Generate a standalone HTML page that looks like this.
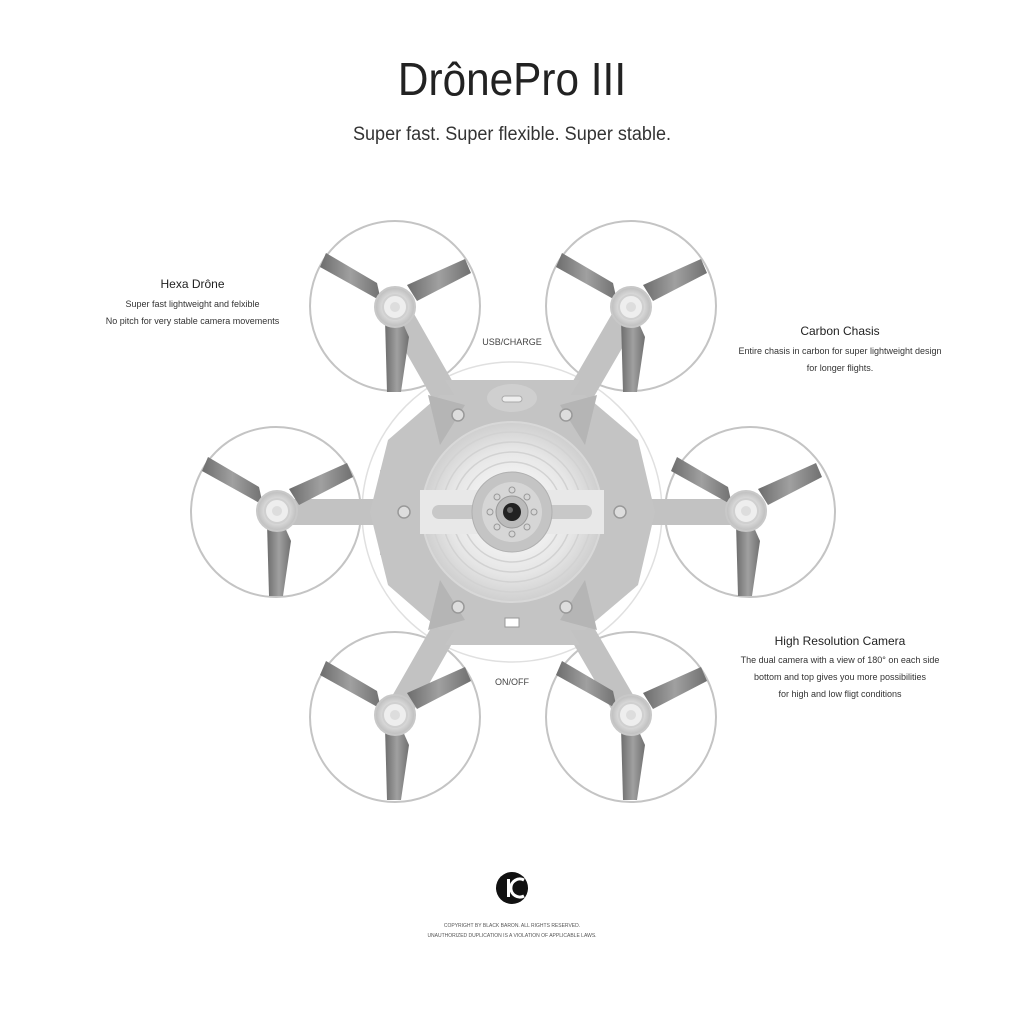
<!DOCTYPE html>
<html><head><meta charset="utf-8"><style>
html,body{margin:0;padding:0;background:#fff;}
body{width:1024px;height:1024px;position:relative;overflow:hidden;font-family:"Liberation Sans",sans-serif;color:#222;}
.t{position:absolute;text-align:center;}
</style></head><body>
<svg width="1024" height="1024" style="position:absolute;left:0;top:0">
<defs>
<linearGradient id="bl" x1="0" y1="0" x2="1" y2="0"><stop offset="0" stop-color="#6d6d6d"/><stop offset="0.5" stop-color="#a0a0a0"/><stop offset="1" stop-color="#707070"/></linearGradient>
<radialGradient id="hub"><stop offset="0" stop-color="#f4f4f4"/><stop offset="0.6" stop-color="#dcdcdc"/><stop offset="1" stop-color="#bdbdbd"/></radialGradient>
<radialGradient id="core"><stop offset="0" stop-color="#ffffff"/><stop offset="0.7" stop-color="#e6e6e6"/><stop offset="1" stop-color="#cfcfcf"/></radialGradient>
<g id="rot">
<polygon points="-14,-6 -75,-40 -69,-54 -18,-24" fill="url(#bl)"/>
<polygon points="12,-22 70,-48 76,-34 22,-6" fill="url(#bl)"/>
<polygon points="-10,12 -8,85 6,85 14,30 6,12" fill="url(#bl)"/>
<circle r="20" fill="url(#hub)" stroke="#c8c8c8" stroke-width="2"/>
<circle r="12" fill="#eee" stroke="#d0d0d0" stroke-width="2"/>
<circle r="5" fill="#ddd"/>
</g>
</defs>
<g fill="none" stroke="#c4c4c4" stroke-width="2">
<circle cx="395" cy="306" r="85"/><circle cx="631" cy="306" r="85"/>
<circle cx="276" cy="512" r="85"/><circle cx="750" cy="512" r="85"/>
<circle cx="395" cy="717" r="85"/><circle cx="631" cy="717" r="85"/>
</g>
<circle cx="512" cy="512" r="150" fill="none" stroke="#e0e0e0" stroke-width="1.5"/>
<g stroke="#c2c2c2" stroke-linecap="round">
<line x1="512" y1="512" x2="398" y2="312" stroke-width="26"/>
<line x1="512" y1="512" x2="628" y2="312" stroke-width="26"/>
<line x1="512" y1="512" x2="280" y2="512" stroke-width="26"/>
<line x1="512" y1="512" x2="744" y2="512" stroke-width="26"/>
<line x1="512" y1="512" x2="398" y2="712" stroke-width="26"/>
<line x1="512" y1="512" x2="628" y2="712" stroke-width="26"/>
</g>
<polygon points="440,395 585,395 638,440 655,512 638,585 585,630 440,630 388,585 370,512 388,440" fill="#c4c4c4"/>
<polygon points="445,380 470,420 430,470 380,470 380,555 430,555 470,605 445,645 580,645 555,605 595,555 645,555 645,470 595,470 555,420 580,380" fill="#c4c4c4"/>
<ellipse cx="512" cy="398" rx="25" ry="14" fill="#cfcfcf"/>
<rect x="502" y="396" width="20" height="6" rx="3" fill="#eee" stroke="#aaa"/>
<rect x="505" y="618" width="14" height="9" fill="#fff" stroke="#999"/>
<g fill="#b5b5b5">
<polygon points="428,395 465,405 440,445"/><polygon points="597,395 560,405 585,445"/>
<polygon points="428,630 465,620 440,580"/><polygon points="597,630 560,620 585,580"/>
</g>
<g fill="#ddd" stroke="#999" stroke-width="1.5">
<circle cx="458" cy="415" r="6"/><circle cx="566" cy="415" r="6"/>
<circle cx="458" cy="607" r="6"/><circle cx="566" cy="607" r="6"/>
<circle cx="404" cy="512" r="6"/><circle cx="620" cy="512" r="6"/>
</g>
<circle cx="512" cy="512" r="90" fill="url(#core)" stroke="#d8d8d8" stroke-width="2"/>
<g fill="none" stroke="#d2d2d2" stroke-width="1.5">
<circle cx="512" cy="512" r="80"/><circle cx="512" cy="512" r="70"/><circle cx="512" cy="512" r="60"/><circle cx="512" cy="512" r="50"/>
</g>
<rect x="420" y="490" width="184" height="44" fill="#e8e8e8"/>
<rect x="432" y="505" width="160" height="14" rx="7" fill="#c8c8c8"/>
<circle cx="512" cy="512" r="40" fill="#c4c4c4" stroke="#b0b0b0"/>
<circle cx="512" cy="512" r="30" fill="#d6d6d6"/>
<g fill="none" stroke="#999"><circle cx="512" cy="490" r="3"/><circle cx="512" cy="534" r="3"/><circle cx="490" cy="512" r="3"/><circle cx="534" cy="512" r="3"/><circle cx="497" cy="497" r="3"/><circle cx="527" cy="497" r="3"/><circle cx="497" cy="527" r="3"/><circle cx="527" cy="527" r="3"/></g>
<circle cx="512" cy="512" r="16" fill="#bbb" stroke="#999"/>
<circle cx="512" cy="512" r="9" fill="#222"/>
<circle cx="510" cy="510" r="3" fill="#666"/>
<use href="#rot" x="395" y="307"/><use href="#rot" x="631" y="307"/>
<use href="#rot" x="277" y="511"/><use href="#rot" x="746" y="511"/>
<use href="#rot" x="395" y="715"/><use href="#rot" x="631" y="715"/>
<circle cx="512" cy="888" r="16" fill="#111"/>
<rect x="507" y="879" width="3" height="18" fill="#fff"/>
<path d="M524,880 A9,9 0 1 0 524,896" fill="none" stroke="#fff" stroke-width="3"/>
</svg>
<div class="t" style="left:0;width:1024px;top:52px;font-size:46px;color:#222;transform:scaleX(0.92)">DrônePro III</div>
<div class="t" style="left:0;width:1024px;top:124px;font-size:19px;color:#333;transform:scaleX(0.95)">Super fast. Super flexible. Super stable.</div>
<div class="t" style="left:80px;width:225px;top:277px;font-size:12px;color:#222">Hexa Drône</div>
<div class="t" style="left:80px;width:225px;top:296px;font-size:9px;line-height:17px;color:#333">Super fast lightweight and felxible<br>No pitch for very stable camera movements</div>
<div class="t" style="left:710px;width:260px;top:324px;font-size:12px">Carbon Chasis</div>
<div class="t" style="left:710px;width:260px;top:343px;font-size:9px;line-height:17px;color:#333">Entire chasis in carbon for super lightweight design<br>for longer flights.</div>
<div class="t" style="left:710px;width:260px;top:634px;font-size:12px">High Resolution Camera</div>
<div class="t" style="left:710px;width:260px;top:652px;font-size:9px;line-height:17px;color:#333">The dual camera with a view of 180° on each side<br>bottom and top gives you more possibilities<br>for high and low fligt conditions</div>
<div class="t" style="left:462px;width:100px;top:337px;font-size:9px;color:#444">USB/CHARGE</div>
<div class="t" style="left:462px;width:100px;top:677px;font-size:9px;color:#444">ON/OFF</div>
<div class="t" style="left:380px;width:264px;top:921px;font-size:5px;line-height:10px;color:#555">COPYRIGHT BY BLACK BARON. ALL RIGHTS RESERVED.<br>UNAUTHORIZED DUPLICATION IS A VIOLATION OF APPLICABLE LAWS.</div>
</body></html>
